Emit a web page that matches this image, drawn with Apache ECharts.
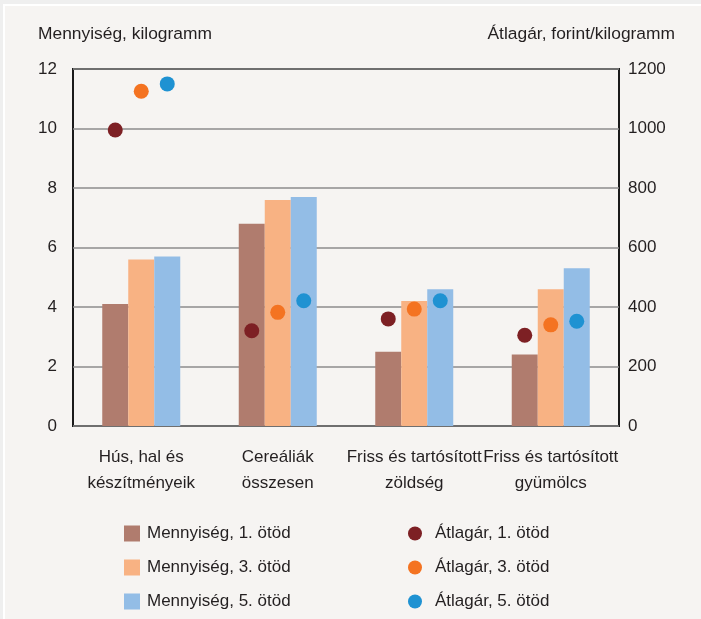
<!DOCTYPE html>
<html>
<head>
<meta charset="utf-8">
<script src="https://cdn.jsdelivr.net/npm/echarts@6/dist/echarts.min.js"></script>
<style>
  html, body { margin: 0; padding: 0; background: #efefef; }
  #main { width: 701px; height: 619px; }
</style>
</head>
<body>
<div id="main"></div>
<script>
// categories on the x axis
const categories = ['Hús, hal és\nkészítményeik', 'Cereáliák\nösszesen', 'Friss és tartósított\nzöldség', 'Friss és tartósított\ngyümölcs'];

// quantity, kilogram (left axis)
const qty1 = [4.1, 6.8, 2.5, 2.4];
const qty3 = [5.6, 7.6, 4.2, 4.6];
const qty5 = [5.7, 7.7, 4.6, 5.3];

// average price, forint/kilogram (right axis)
const price1 = [995, 320, 360, 305];
const price3 = [1125, 382, 393, 340];
const price5 = [1150, 421, 421, 352];

const leftTicks = [0, 12, 2];     // min, max, interval
const rightTicks = [0, 1200, 200];

const font = 'Liberation Sans, Arial, sans-serif';
const txt = '#231f20';

const chart = echarts.init(document.getElementById('main'));

chart.setOption({
    backgroundColor: '#efefef',
    animation: false,
    textStyle: { fontFamily: font, color: txt },
    graphic: [
        { type: 'rect', shape: { x: 4, y: 5, width: 700, height: 620 },
          style: { fill: '#f6f4f2', stroke: '#ffffff', lineWidth: 2 }, z: -10 },
        { type: 'text', left: 38, top: 26,
          style: { text: 'Mennyiség, kilogramm', font: '17.4px ' + font, fill: txt } },
        { type: 'text', right: 26, top: 26,
          style: { text: 'Átlagár, forint/kilogramm', font: '17.4px ' + font, fill: txt } }
    ],
    grid: {
        left: 73, right: 82, top: 69, bottom: 193,
        show: true, borderColor: '#1a1a1a', borderWidth: 2,
        containLabel: false, outerBoundsMode: 'none'
    },
    xAxis: {
        type: 'category',
        data: categories,
        axisLine: { show: false },
        axisTick: { show: false },
        axisLabel: { color: txt, fontSize: 17, lineHeight: 26, margin: 18, interval: 0 }
    },
    yAxis: [
        {
            type: 'value', min: leftTicks[0], max: leftTicks[1], interval: leftTicks[2],
            axisLine: { show: false }, axisTick: { show: false },
            axisLabel: { color: txt, fontSize: 17, margin: 16, padding: [0, 0, 8, 0] },
            splitLine: { lineStyle: { color: '#8c8c8c', width: 1.5 } }
        },
        {
            type: 'value', min: rightTicks[0], max: rightTicks[1], interval: rightTicks[2],
            axisLine: { show: false }, axisTick: { show: false },
            axisLabel: { color: txt, fontSize: 17, margin: 9, padding: [0, 0, 8, 0],
                         formatter: v => String(v) },
            splitLine: { show: false }
        }
    ],
    legend: [
        {
            data: ['Mennyiség, 1. ötöd', 'Mennyiség, 3. ötöd', 'Mennyiség, 5. ötöd'],
            orient: 'vertical', left: 119, top: 520, height: 120,
            itemWidth: 16, itemHeight: 16, itemGap: 17, icon: 'rect',
            textStyle: { fontSize: 17, color: txt, padding: [0, 0, 0, 2] }
        },
        {
            data: ['Átlagár, 1. ötöd', 'Átlagár, 3. ötöd', 'Átlagár, 5. ötöd'],
            orient: 'vertical', left: 403, top: 520, height: 120,
            itemWidth: 14, itemHeight: 14, itemGap: 17, icon: 'circle',
            textStyle: { fontSize: 17, color: txt, padding: [0, 0, 0, 8] }
        }
    ],
    series: [
        { name: 'Mennyiség, 1. ötöd', type: 'bar', data: qty1, barWidth: 26, barGap: '0%',
          itemStyle: { color: '#b07c6e' } },
        { name: 'Mennyiség, 3. ötöd', type: 'bar', data: qty3, barWidth: 26, barGap: '0%',
          itemStyle: { color: '#f8b283' } },
        { name: 'Mennyiség, 5. ötöd', type: 'bar', data: qty5, barWidth: 26, barGap: '0%',
          itemStyle: { color: '#93bde6' } },
        { name: 'Átlagár, 1. ötöd', type: 'scatter', yAxisIndex: 1, data: price1,
          symbolSize: 15, symbolOffset: [-26, 0], itemStyle: { color: '#7d2024', opacity: 1 }, z: 5 },
        { name: 'Átlagár, 3. ötöd', type: 'scatter', yAxisIndex: 1, data: price3,
          symbolSize: 15, symbolOffset: [0, 0], itemStyle: { color: '#f47321', opacity: 1 }, z: 5 },
        { name: 'Átlagár, 5. ötöd', type: 'scatter', yAxisIndex: 1, data: price5,
          symbolSize: 15, symbolOffset: [26, 0], itemStyle: { color: '#1f92d2', opacity: 1 }, z: 5 }
    ]
});
</script>
</body>
</html>
